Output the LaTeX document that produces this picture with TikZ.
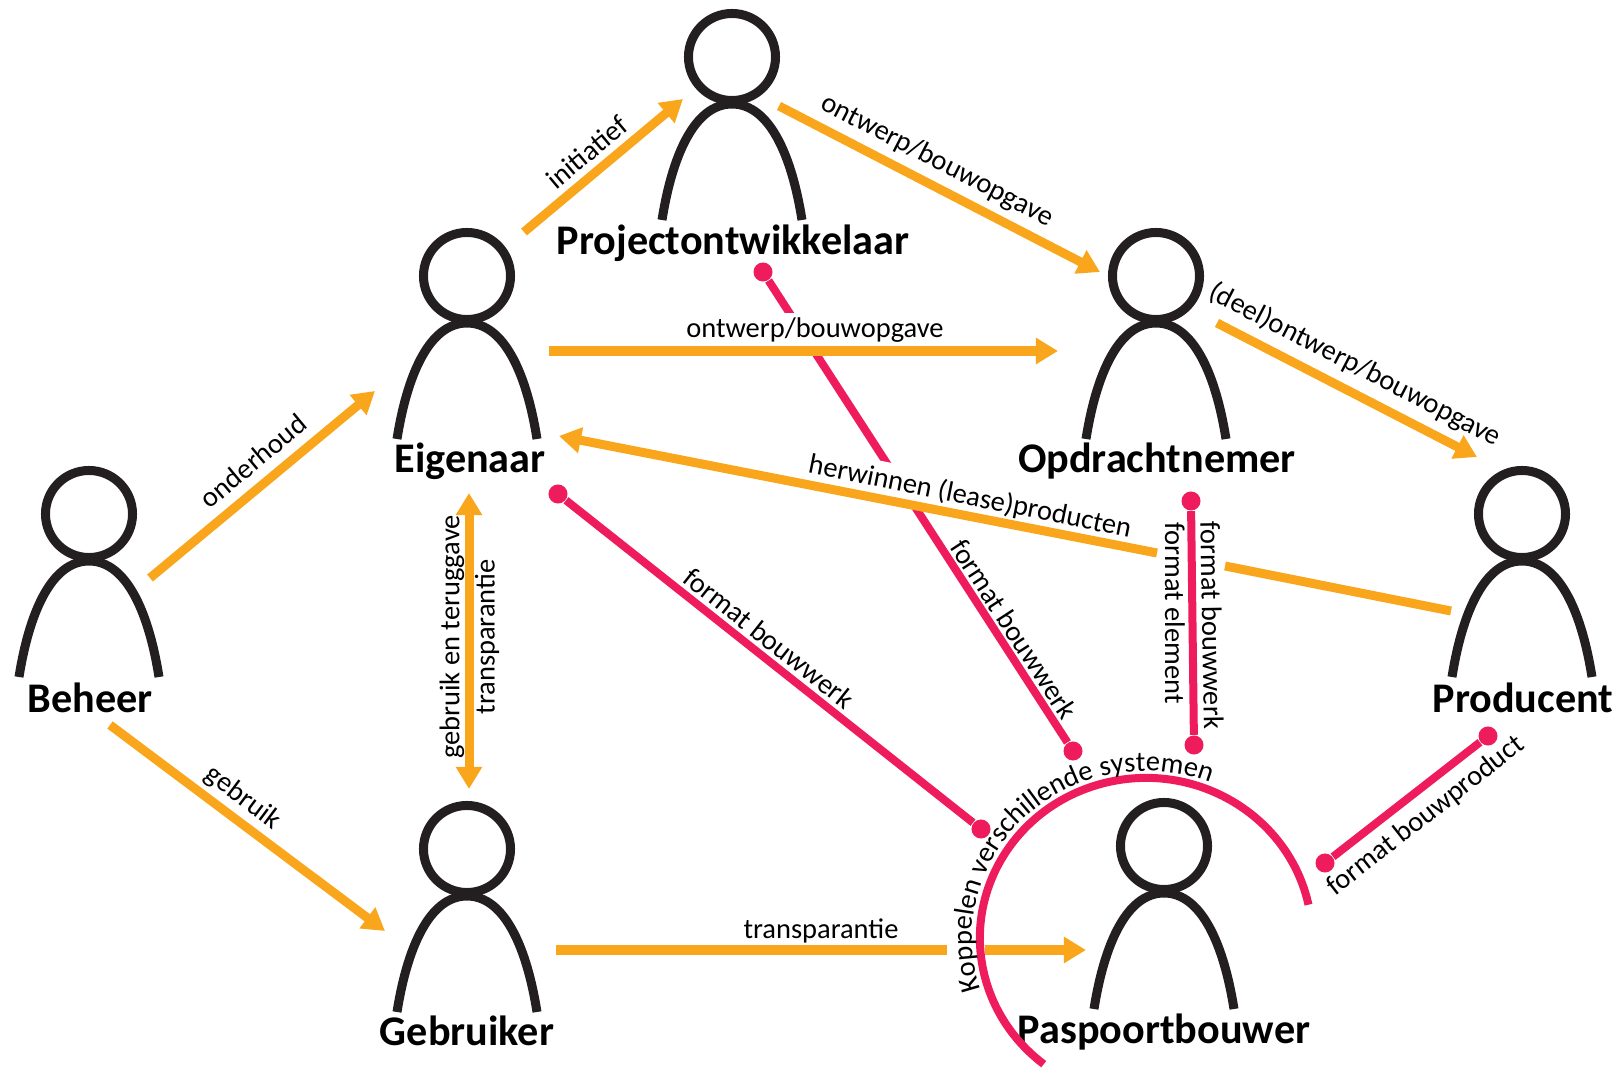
\documentclass[tikz,border=0pt]{standalone}
\usepackage{fontspec}
\setmainfont{Carlito}
\usetikzlibrary{arrows.meta}
\usetikzlibrary{decorations.text}
\definecolor{figure}{HTML}{231F20}
\definecolor{flow}{HTML}{F9A61C}
\definecolor{link}{HTML}{EE1C5C}
\newcommand{\labelfont}{\fontsize{8.1}{10}\selectfont}

\begin{document}
\begin{tikzpicture}
	[x=0.01cm,y=-0.01cm,>={Triangle[length=0.22cm,width=0.25cm]},
	head/.style = {
		draw=figure, circle, line width=0.09cm, inner sep=0cm, minimum size=0.87cm
	},
	torso/.pic = {
		\draw[figure,line width=0.09cm] (-70,163) .. controls (-60,100) and (-38,47) .. (0,47)
		.. controls (38,47) and (60,100) .. (70,163);
	},
	role/.style = {
		inner sep=0cm, font=\fontsize{12}{14}\bfseries
	},
	flowline/.style = {
		draw=flow, line width=0.09cm
	},
	linkline/.style = {
		draw=link, line width=0.08cm
	},
	dot/.style = {
		fill=link, circle, inner sep=0cm, minimum size=0.19cm
	},
	lab/.style = {
		inner sep=0cm, font=\labelfont
	},
	whitelab/.style = {
		lab, fill=white, inner xsep=0.02cm, inner ysep=0.05cm
	}]
	\useasboundingbox (0,0) rectangle (1623,1070);
	
	%Draw persons
	\node[head] at (732,57) (hproject) {};
	\node[head] at (467,276) (heigenaar) {};
	\node[head] at (1156,276) (hopdracht) {};
	\node[head] at (89,514) (hbeheer) {};
	\node[head] at (1522,514) (hproducent) {};
	\node[head] at (467,849) (hgebruiker) {};
	\node[head] at (1164,846) (hpaspoort) {};
	
	\pic at (hproject) {torso};
	\pic at (heigenaar) {torso};
	\pic at (hopdracht) {torso};
	\pic at (hbeheer) {torso};
	\pic at (hproducent) {torso};
	\pic at (hgebruiker) {torso};
	\pic at (hpaspoort) {torso};
	
	\node[role] at (733,243) (project) {Projectontwikkelaar};
	\node[role] at (470,461) (eigenaar) {Eigenaar};
	\node[role] at (1157,461) (opdracht) {Opdrachtnemer};
	\node[role] at (90,698) (beheer) {Beheer};
	\node[role] at (1523,698) (producent) {Producent};
	\node[role] at (467,1031) (gebruiker) {Gebruiker};
	\node[role] at (1164,1032) (paspoort) {Paspoortbouwer};
	
	%Draw dots
	\node[dot] at (763,272) (dproject) {};
	\node[dot] at (1073,751) (dprojectend) {};
	\node[dot] at (558,494) (deigenaar) {};
	\node[dot] at (981,829) (deigenaarend) {};
	\node[dot] at (1191,501) (dopdracht) {};
	\node[dot] at (1194,745) (dopdrachtend) {};
	\node[dot] at (1488,736) (dproducent) {};
	\node[dot] at (1325,863) (dproducentend) {};
	
	\coordinate (cbeheerup) at (150,578);
	\coordinate (ceigenaarin) at (375,391);
	\coordinate (cbeheerdown) at (110,725);
	\coordinate (cgebruikerin) at (385,931);
	\coordinate (ceigenaarup) at (524,232);
	\coordinate (cprojectin) at (683,99);
	\coordinate (cprojectout) at (779,106);
	\coordinate (copdrachtin) at (1100,272);
	\coordinate (ceigenaarout) at (549,351);
	\coordinate (copdrachtin2) at (1058,351);
	\coordinate (copdrachtout) at (1217,323);
	\coordinate (cproducentin) at (1477,457);
	\coordinate (cproducentout) at (1451,611);
	\coordinate (cgapright) at (1225,566);
	\coordinate (cgapleft) at (1157,553);
	\coordinate (ceigenaarin2) at (559,436);
	\coordinate (cgebruikertop) at (469,493);
	\coordinate (cgebruikerend) at (469,789);
	\coordinate (cgebruikerout) at (556,950);
	\coordinate (cringleft) at (947,950);
	\coordinate (cringright) at (985,950);
	\coordinate (cpaspoortin) at (1086,950);
	\coordinate (cring) at (1146,938);
	
	%Draw pink wires under the labels
	\draw[linkline] (dproject) -- (dprojectend);
	\draw[linkline] (deigenaar) -- (deigenaarend);
	
	%labels that hide the pink wire
	\node[whitelab] at (815,330) (lontwerp) {ontwerp/bouwopgave};
	\node[whitelab,rotate=-11.5] at (970,497) (lherwinnen) {herwinnen (lease)producten};
	
	%Draw orange wires
	\draw[flowline,->] (cbeheerup) -- (ceigenaarin);
	\draw[flowline,->] (cbeheerdown) -- (cgebruikerin);
	\draw[flowline,->] (ceigenaarup) -- (cprojectin);
	\draw[flowline,->] (cprojectout) -- (copdrachtin);
	\draw[flowline,->] (ceigenaarout) -- (copdrachtin2);
	\draw[flowline,->] (copdrachtout) -- (cproducentin);
	\draw[flowline] (cproducentout) -- (cgapright);
	\draw[flowline,->] (cgapleft) -- (ceigenaarin2);
	\draw[flowline,<->] (cgebruikertop) -- (cgebruikerend);
	\draw[flowline] (cgebruikerout) -- (cringleft);
	\draw[flowline,->] (cringright) -- (cpaspoortin);
	
	%remaining pink wires
	\draw[linkline] (dopdracht) -- (dopdrachtend);
	\draw[linkline] (dproducent) -- (dproducentend);
	\draw[linkline] (cring) ++(12:1.66cm and 1.60cm) arc[start angle=12,end angle=232,x radius=1.66cm,y radius=1.60cm];
	
	%Draw labels
	\node[lab,rotate=39.7] at (253,461) (londerhoud) {onderhoud};
	\node[lab,rotate=-36.8] at (243,798) (lgebruik) {gebruik};
	\node[lab,rotate=39.9] at (587,152) (linitiatief) {initiatief};
	\node[lab,rotate=-27.3] at (937,161) (lontwerp2) {ontwerp/bouwopgave};
	\node[lab,rotate=-27.3] at (1355,365) (ldeel) {(deel)ontwerp/bouwopgave};
	\node[lab,rotate=-38.4] at (769,638) (lbouwwerk1) {format bouwwerk};
	\node[lab,rotate=-57] at (1014,629) (lbouwwerk2) {format bouwwerk};
	\node[lab,rotate=-90] at (1175,613) (lelement) {format element};
	\node[lab,rotate=-89] at (1212,625) (lbouwwerk3) {format bouwwerk};
	\node[lab,rotate=90] at (452,637) (lteruggave) {gebruik en teruggave};
	\node[lab,rotate=90] at (487,637) (ltransparantie) {transparantie};
	\node[lab] at (821,931) (ltransparantie2) {transparantie};
	\node[lab,rotate=38] at (1426,816) (lbouwproduct) {format bouwproduct};
	
	\path[decorate,decoration={text along path,text={|\labelfont|Koppelen verschillende systemen}}]
	(cring) ++(198:1.74cm and 1.67cm) arc[start angle=198,end angle=55,x radius=1.74cm,y radius=1.67cm];
	
\end{tikzpicture}
\end{document}
